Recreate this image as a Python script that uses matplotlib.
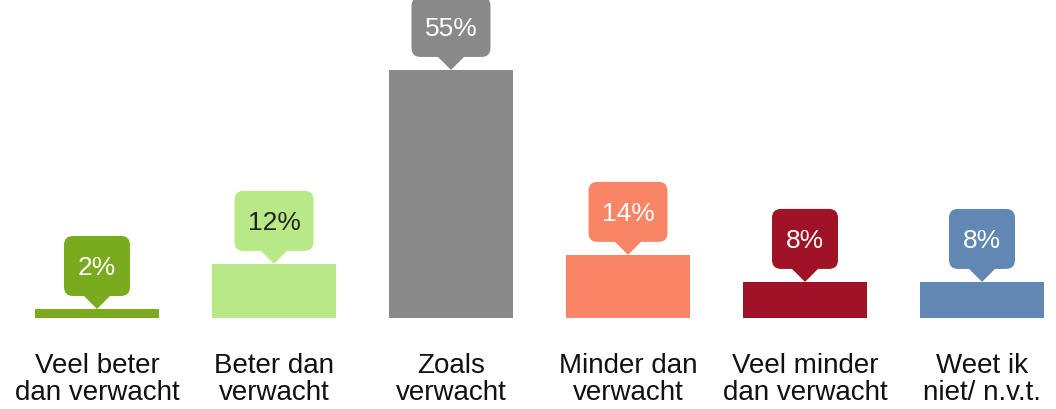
import matplotlib
matplotlib.use("Agg")
import matplotlib.pyplot as plt
from matplotlib.patches import FancyBboxPatch, Polygon
from matplotlib import transforms

# Data
categories = ["Veel beter\ndan verwacht", "Beter dan\nverwacht", "Zoals\nverwacht",
              "Minder dan\nverwacht", "Veel minder\ndan verwacht", "Weet ik\nniet/ n.v.t."]
values = [2, 12, 55, 14, 8, 8]
labels = ["2%", "12%", "55%", "14%", "8%", "8%"]
colors = ["#7AAB1E", "#B9E986", "#898989", "#FA8466", "#A01225", "#6088B3"]
text_colors = ["white", "#222222", "white", "white", "white", "white"]

plt.rcParams['font.family'] = ['Liberation Sans', 'DejaVu Sans']

fig = plt.figure(figsize=(10.56, 4.09), dpi=100)
ax = fig.add_axes([0, 0, 1, 1])
ax.set_axis_off()

x = list(range(len(values)))
ax.bar(x, values, width=0.695, color=colors)

# map pixels: bar centres 177px apart, baseline 91px above bottom, 4.51px per %
ax.set_xlim(-97 / 177, (1056 - 97) / 177)
ax.set_ylim(-91 / 4.51, (409 - 91) / 4.51)

fig.canvas.draw()

for i, v in enumerate(values):
    # callout, in pixel units around the bar top
    tr = transforms.Affine2D() + transforms.ScaledTranslation(i, v, ax.transData)
    w = 66 if len(labels[i]) < 3 else 79
    h = 60
    gap = 13
    box = FancyBboxPatch((-w / 2, gap), w, h, boxstyle="round,pad=0,rounding_size=9",
                         facecolor=colors[i], edgecolor="none", transform=tr)
    ax.add_patch(box)
    tri = Polygon([(-14, gap + 1), (14, gap + 1), (0, 0)], closed=True,
                  facecolor=colors[i], edgecolor="none", transform=tr)
    ax.add_patch(tri)
    ax.annotate(labels[i], xy=(i, v), xytext=(0, (gap + h / 2) * 0.72),
                textcoords="offset points", ha="center", va="center_baseline",
                fontsize=19, color=text_colors[i])

    # category label under the bar
    ax.annotate(categories[i], xy=(i, 0), xytext=(0, -35 * 0.72),
                textcoords="offset points", ha="center", va="top",
                fontsize=20, color="#111111", linespacing=1.04)

fig.savefig("out.png", dpi=100)
